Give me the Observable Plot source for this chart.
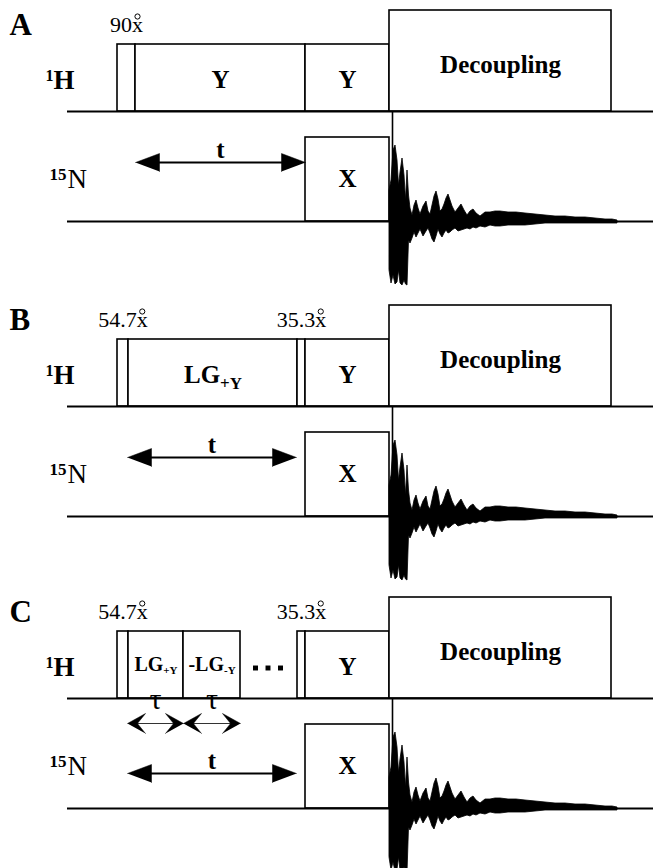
<!DOCTYPE html>
<html><head><meta charset="utf-8">
<script src="https://cdn.jsdelivr.net/npm/d3@7"></script>
<script src="https://cdn.jsdelivr.net/npm/@observablehq/plot@0.6"></script>
<style>html,body{margin:0;padding:0;background:#fff}svg{display:block}</style>
</head><body><div id="chart"></div>
<script>
// ---------- data ----------
const panelLetters = ["A", "B", "C"];

// pulse blocks on the two channels (time in sequence units)
const pulsesA = [
  {ch: "H", start: 117, end: 135, kind: "flip", angle: "90"},
  {ch: "H", start: 135, end: 305, kind: "spin", label: "Y"},
  {ch: "H", start: 305, end: 389, kind: "spin", label: "Y"},
  {ch: "H", start: 389, end: 611, kind: "dec", label: "Decoupling"},
  {ch: "N", start: 305, end: 389, kind: "cp", label: "X"}
];
const pulsesB = [
  {ch: "H", start: 117, end: 128, kind: "flip", angle: "54.7"},
  {ch: "H", start: 128, end: 297, kind: "spin", label: "LG", sub: "+Y"},
  {ch: "H", start: 297, end: 305, kind: "flip", angle: "35.3"},
  {ch: "H", start: 305, end: 389, kind: "spin", label: "Y"},
  {ch: "H", start: 389, end: 611, kind: "dec", label: "Decoupling"},
  {ch: "N", start: 305, end: 389, kind: "cp", label: "X"}
];
const pulsesC = [
  {ch: "H", start: 117, end: 128, kind: "flip", angle: "54.7"},
  {ch: "H", start: 128, end: 183, kind: "spin", label: "LG", sub: "+Y"},
  {ch: "H", start: 183, end: 240, kind: "spin", label: "-LG", sub: "-Y"},
  {ch: "H", start: 297, end: 305, kind: "flip", angle: "35.3"},
  {ch: "H", start: 305, end: 389, kind: "spin", label: "Y"},
  {ch: "H", start: 389, end: 611, kind: "dec", label: "Decoupling"},
  {ch: "N", start: 305, end: 389, kind: "cp", label: "X"}
];

// evolution period t and the tau windows
const evolutionA = [{start: 135, end: 305, label: "t"}];
const evolutionB = [{start: 127, end: 296, label: "t"}];
const evolutionC = [{start: 127, end: 296, label: "t"}];
const tauC = [{start: 127, end: 183, label: "τ"}, {start: 183, end: 240, label: "τ"}];

// FID envelope (time, upper and lower amplitude)
const fidTime = [389,391,393,395,397,398.5,400,402,404,405.5,407,408.5,410,412,414,416,418,420,423,426,
  428,430,432,434,436,438,440,442,444,446,448,450,452,455,458,461,464,467,470,473,
  476,480,485,490,495,500,508,516,525,535,545,555,565,575,585,595,605,612,617];
const fidUpper = [31,41,71,76,61,36,49,63,46,21,51,26,13,6,16,21,13,7,15,20,
  10,7,16,25,30,22,10,12,17,23,27,21,15,9,13,17,11,6,10,12,
  8,5,9,9,10,10,9,9,8,7,6,5,5,4,4,3,2,2,1];
const fidLower = [-49,-62,-54,-63,-61,-49,-62,-64,-59,-63,-64,-19,-22,-17,-11,-16,-12,-8,-15,-10,
  -7,-12,-18,-21,-15,-8,-13,-16,-12,-9,-12,-11,-9,-7,-10,-9,-8,-7,-8,-6,
  -7,-5,-6,-4,-5,-5,-4,-4,-4,-3,-2,-2,-2,-2,-2,-2,-2,-2,-2];
const acqStart = 392;

// ---------- layout ----------
const W = 653;
const FONT = "Liberation Serif";
const H0 = 111, N0 = 221;            // channel baselines
const level = {flip: 67, spin: 67, dec: 101, cp: 84};
const fid = fidTime.map((t, i) => ({t, up: fidUpper[i], lo: fidLower[i]}));

const ctx = document.createElement("canvas").getContext("2d");
function tw(s, size, weight) { ctx.font = `${weight} ${size}px "${FONT}"`; return ctx.measureText(s).width; }

function build(letter, pulses, evo, taus, height, tY) {
  const base = {H: H0, N: N0};
  const rects = pulses.map(p => ({...p, yb: base[p.ch], yt: base[p.ch] - level[p.kind], c: (p.start + p.end) / 2}));
  const bold = [], normal = [], rings = [];
  bold.push({x: 9, y: 34, text: letter, size: 31});
  bold.push({x: 45, y: 80, text: "1", size: 16});
  bold.push({x: 53, y: 88, text: "H", size: 27});
  bold.push({x: 49, y: 179, text: "15", size: 17});
  normal.push({x: 67, y: 187, text: "N", size: 27});
  for (const r of rects) {
    if (r.angle) {
      const s = r.angle + "x";
      const w = tw(s, 22, "normal"), xw = tw("x", 22, "normal");
      const left = r.c - w / 2;
      normal.push({x: left, y: 31, text: s, size: 22});
      rings.push({x: left + w - xw / 2, y: 16});
    }
    if (r.label) {
      const narrow = r.end - r.start < 70;
      const size = narrow ? 20 : 25, subSize = narrow ? 11 : 17;
      const lw = tw(r.label, size, "bold"), sw = r.sub ? tw(r.sub, subSize, "bold") : 0;
      const left = r.c - (lw + sw) / 2;
      const yb = r.ch === "N" ? 186 : r.kind === "dec" ? 72 : narrow ? 83 : 87;
      bold.push({x: left, y: yb, text: r.label, size});
      if (r.sub) bold.push({x: left + lw, y: yb + (narrow ? 3 : 6), text: r.sub, size: subSize});
    }
  }
  for (const e of evo) {
    const w = tw(e.label, 25, "bold");
    bold.push({x: (e.start + e.end) / 2 - w / 2, y: tY - 5, text: e.label, size: 25});
  }
  const tauY = 136;
  for (const e of taus) {
    const w = tw(e.label, 30, "normal");
    normal.push({x: (e.start + e.end) / 2 - w / 2, y: tauY - 15, text: e.label, size: 30});
  }
  // arrow heads
  const heads = [];
  evo.forEach((a, i) => {
    const L = 24, hw = 9;
    [[a.start, 1], [a.end, -1]].forEach(([x0, s], k) => {
      [[x0, tY], [x0 + s * L, tY - hw], [x0 + s * L, tY + hw]].forEach(([x, y]) => heads.push({x, y, id: `e${i}${k}`}));
    });
  });
  taus.forEach((a, i) => {
    const L = 18, hw = 10;
    [[a.start, 1], [a.end, -1]].forEach(([x0, s], k) => {
      [[x0, tauY], [x0 + s * L, tauY - hw], [x0 + s * L * 0.55, tauY], [x0 + s * L, tauY + hw]]
        .forEach(([x, y]) => heads.push({x, y, id: `t${i}${k}`}));
    });
  });

  return Plot.plot({
    width: W, height, margin: 0,
    x: {domain: [0, W], range: [0, W], axis: null},
    y: {domain: [height, 0], range: [height, 0], axis: null},
    style: {background: "white", fontFamily: FONT, overflow: "visible"},
    marks: [
      Plot.rect(rects, {x1: "start", x2: "end", y1: "yb", y2: "yt", fill: "white", stroke: "black", strokeWidth: 1.6}),
      Plot.ruleY([H0, N0], {x1: 67, x2: W, stroke: "black", strokeWidth: 2.2}),
      Plot.areaY(fid, {x: "t", y1: d => N0 - d.lo, y2: d => N0 - d.up, fill: "black", stroke: "black", strokeWidth: 0.8}),
      Plot.ruleX([acqStart], {y1: H0, y2: N0, stroke: "black", strokeWidth: 1.6}),
      Plot.ruleY(evo, {x1: d => d.start + 20, x2: d => d.end - 20, y: tY, stroke: "black", strokeWidth: 2}),
      Plot.ruleY(taus, {x1: d => d.start + 8, x2: d => d.end - 8, y: tauY, stroke: "#333", strokeWidth: 1.2}),
      Plot.line(heads, {x: "x", y: "y", z: "id", fill: "black", stroke: "black", strokeWidth: 0.5}),
      taus.length ? Plot.dot([0, 1, 2], {x: i => 255 + i * 12.5, y: 80.5, symbol: "square", r: 2.8, fill: "black", stroke: "none"}) : null,
      Plot.dot(rings, {x: "x", y: "y", r: 2.6, fill: "none", stroke: "black", strokeWidth: 1}),
      Plot.text(bold, {x: "x", y: "y", text: "text", fontSize: "size", fontWeight: "bold", textAnchor: "start", lineAnchor: "bottom", fill: "black", fontFamily: FONT}),
      Plot.text(normal, {x: "x", y: "y", text: "text", fontSize: "size", fontWeight: "normal", textAnchor: "start", lineAnchor: "bottom", fill: "black", fontFamily: FONT})
    ]
  });
}

const root = document.getElementById("chart");
root.append(build(panelLetters[0], pulsesA, evolutionA, [], 295, 162));
root.append(build(panelLetters[1], pulsesB, evolutionB, [], 292, 162));
root.append(build(panelLetters[2], pulsesC, evolutionC, tauC, 281, 186));
</script>
</body></html>
